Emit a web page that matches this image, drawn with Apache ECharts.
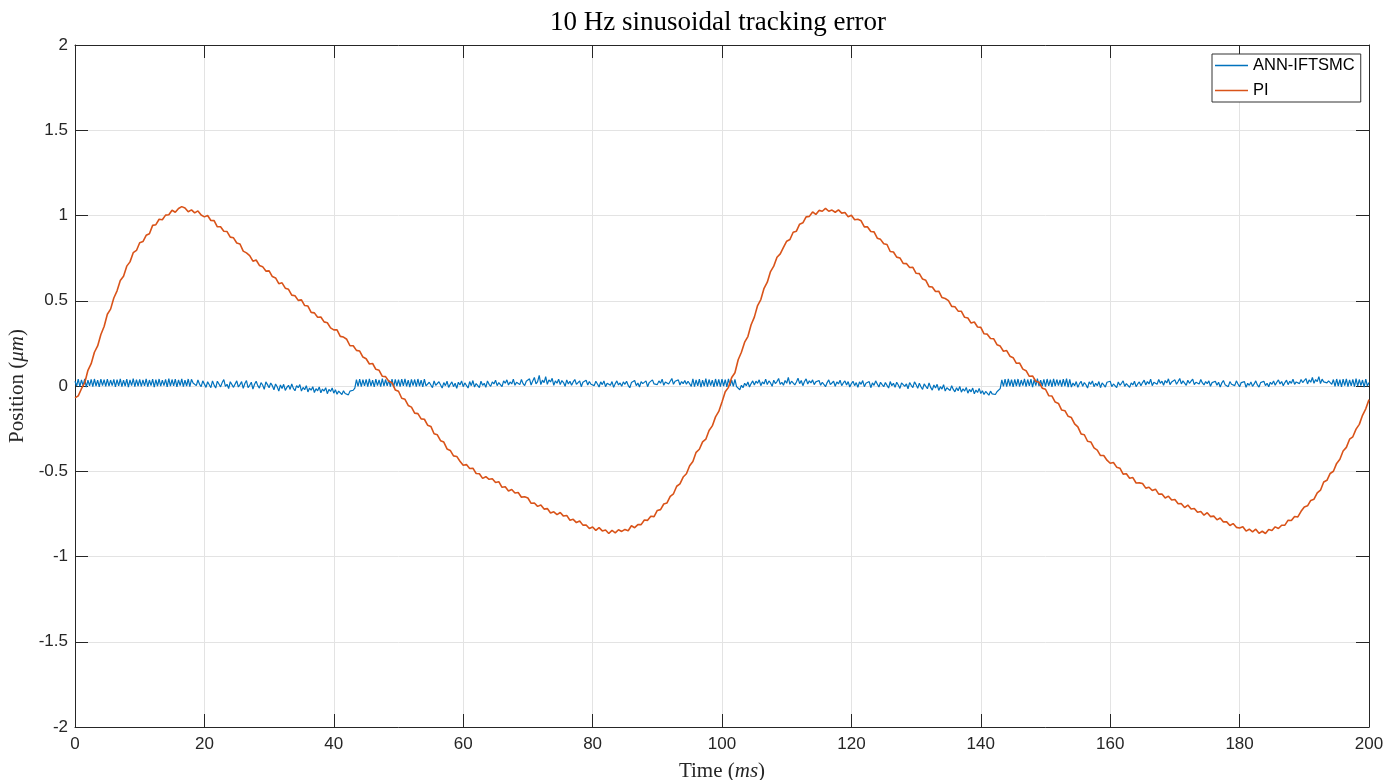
<!DOCTYPE html>
<html><head><meta charset="utf-8">
<script src="https://cdn.jsdelivr.net/npm/echarts@6/dist/echarts.min.js"></script>
<style>html,body{margin:0;padding:0;background:#fff}#c{width:1400px;height:780px}</style>
</head><body><div id="c"></div>
<script>
// ---- chart text ----
const titleText = '10 Hz sinusoidal tracking error';
const seriesNames = ['ANN-IFTSMC', 'PI'];
const seriesColors = ['#0072BD', '#D95319'];
// ---- axis ranges / ticks ----
const xLimits = [0, 200];
const xTickStep = 20;
const yLimits = [-2, 2];
const yTickStep = 0.5;
// ---- sample spacing (ms) ----
const annStepMs = 0.25;
const piStepMs = 0.5;
// ---- ANN-IFTSMC error (um), one value every 0.25 ms from 0 to 200 ms ----
const annValues = [
.028,.0,.04,-.004,.036,.002,.042,-.006,.034,.001,.039,-.003,.041,.0,.035,-.005,.04,.002,.037,-.002,
.041,-.001,.035,.002,.039,-.005,.037,.001,.042,-.003,.034,.0,.04,-.006,.036,.002,.043,-.004,.038,.0,
.039,-.002,.036,.001,.042,-.004,.035,.002,.04,-.006,.038,.0,.041,-.001,.034,.002,.039,-.005,.043,-.001,
.038,.001,.04,-.005,.036,.002,.042,-.003,.035,.0,.041,-.004,.039,.018,.028,.002,.035,.01,-.004,.03,
.022,-.008,.025,.015,-.01,.03,.005,-.012,.028,.012,-.005,.02,.038,-.002,.01,-.015,.025,.018,-.008,.012,
.03,-.006,.008,.026,-.014,.015,.032,-.01,.004,.022,-.018,.01,.028,.002,-.012,.02,.006,-.02,.024,.008,
-.01,.018,.002,-.022,.012,-.004,-.03,.006,-.015,.01,-.026,-.008,.004,-.02,.012,-.014,-.028,.002,-.01,.008,
-.03,-.008,-.022,.002,-.035,-.012,-.025,-.004,-.038,-.016,-.028,-.006,-.04,-.018,-.03,-.01,-.045,-.02,-.032,-.012,
-.042,-.022,-.048,-.03,-.038,-.05,-.028,-.044,-.035,-.052,-.03,-.04,-.025,-.012,.038,-.002,.04,-.004,.037,.001,
.039,-.003,.042,.0,.035,-.005,.04,.002,.036,-.004,.043,-.001,.038,.001,.034,-.003,.041,-.006,.039,.0,
.037,-.004,.04,.001,.042,-.002,.035,-.006,.039,.002,.038,-.003,.041,.0,.034,-.005,.04,.001,-.005,.022,
.012,-.01,.03,.004,-.006,.025,.015,-.012,.02,.002,.028,-.008,.01,.024,-.004,.016,-.014,.022,.006,.03,
-.004,.018,.008,-.012,.026,.002,.032,-.006,.014,.022,-.01,.028,.004,.016,-.008,.03,.01,-.002,.024,.012,
.034,.002,.02,.01,-.004,.03,.016,.036,.006,.024,.012,.04,.004,.022,.03,.008,.038,.014,.002,.028,
.018,.042,.006,.03,.05,.012,.026,.062,.008,.034,.02,.055,.01,.036,.024,.045,.004,.03,.016,.04,
.008,.032,.02,-.002,.036,.012,.028,.004,.024,.038,.01,.018,.03,-.004,.022,.014,.034,.006,.026,.01,
.02,.002,.028,.012,-.006,.024,.008,.03,-.004,.016,.022,.004,.026,-.008,.014,.03,.006,.018,-.002,.024,
.01,.028,.004,-.01,.02,.012,.032,.002,.018,-.006,.026,.014,.006,.03,-.004,.02,.01,.036,.012,.022,
.008,.03,.016,.04,.004,.024,.034,.012,.02,.044,.01,.028,.018,.036,.006,.026,.014,.032,.01,.028,
.039,-.002,.042,-.004,.036,.001,.04,-.006,.035,.0,.043,-.003,.038,.002,.034,-.005,.041,.0,.039,-.003,
.04,.0,.037,-.005,.042,.001,.035,-.002,.039,-.004,-.012,-.022,.004,-.01,.016,.002,.024,-.006,.014,.03,
.006,.028,.016,.036,.002,.024,.012,.04,.008,.03,.018,-.002,.034,.014,.026,.044,.01,.022,.004,.032,
.016,.05,.01,.028,.038,.006,.024,.046,.014,.032,.002,.026,.042,.012,.03,.018,.036,.008,.024,.014,
.032,.004,.022,.03,-.004,.02,.036,.008,.016,.028,-.002,.024,.012,.034,.002,.018,.03,.006,.026,-.006,
.014,.028,.002,.02,-.008,.024,.01,.032,-.004,.016,.006,.026,-.01,.018,.004,.03,.012,-.006,.022,.008,
-.004,.02,.01,-.012,.026,.002,.016,-.008,.022,.006,-.014,.018,.028,-.002,.012,-.016,.02,.004,-.01,.024,
.008,-.014,.016,-.004,-.02,.012,.002,-.016,.018,-.008,-.024,.006,-.012,.01,-.026,-.004,-.018,.008,-.03,-.01,
-.006,-.026,.002,-.02,-.034,-.01,-.028,-.002,-.036,-.016,-.03,-.008,-.042,-.02,-.034,-.012,-.046,-.024,-.038,-.014,
-.044,-.028,-.05,-.032,-.04,-.054,-.03,-.046,-.036,-.05,-.034,-.044,-.015,.036,-.002,.04,-.004,.042,.0,.037,
-.005,.039,.0,.041,-.003,.035,.002,.042,-.004,.038,.001,.04,-.006,.037,.002,.043,-.001,.034,.0,.039,
-.004,.041,.001,.037,-.005,.042,-.001,.038,.002,.036,-.004,.04,.0,.043,-.006,.039,-.006,.018,.002,.026,
-.008,.014,.028,-.002,.02,.008,-.012,.024,.01,.03,-.004,.016,.002,.026,-.01,.018,.006,-.006,.022,.012,
.028,-.004,.012,.02,-.01,.024,.004,.016,.03,-.002,.014,.022,-.008,.018,.006,.028,-.004,.012,.024,.002,
.02,.034,.006,.026,.012,.04,.002,.022,.03,.01,.038,.016,.028,.004,.032,.018,.042,.008,.024,.014,
.036,.01,.026,.044,.012,.03,.02,.004,.034,.016,.028,.04,.008,.022,.03,.012,.038,.018,.006,.026,
.014,.03,-.002,.02,.01,.028,.004,.022,-.006,.018,.032,.008,.016,-.004,.026,.01,.02,.002,.03,.012,
-.004,.02,.01,.026,-.008,.016,.004,.024,-.002,.012,.03,.006,-.006,.02,.012,.028,.002,.016,-.004,.022,
.01,.03,.004,.022,.036,.012,.026,.002,.02,.034,.008,.028,.016,.04,.01,.024,.032,.014,.038,.02,
.028,.044,.012,.036,.022,.05,.016,.038,.026,.055,.014,.04,.024,.032,.018,.03,.036,.01,.038,-.002,
.041,.0,.037,-.005,.04,.002,.042,-.003,.036,.001,.039,-.004,.043,-.001,.038,.002,.035,-.006,.04,.0,
.02
];
// ---- PI error (um), one value every 0.5 ms from 0 to 200 ms ----
const piValues = [
-.07,-.058,-.016,.018,.092,.131,.198,.235,.302,.349,.421,.451,.516,.558,.619,.644,.703,.728,.782,.795,
.84,.847,.884,.893,.942,.946,.978,.975,1.002,1.004,1.031,1.019,1.041,1.052,1.044,1.022,1.033,1.015,1.027,1.003,
.992,1.0,.971,.97,.934,.934,.908,.906,.873,.869,.839,.833,.791,.781,.765,.732,.739,.707,.70,.674,
.675,.642,.634,.60,.605,.574,.567,.533,.529,.502,.505,.472,.469,.432,.429,.403,.405,.376,.371,.341,
.329,.329,.291,.287,.274,.236,.236,.209,.205,.17,.16,.129,.132,.098,.092,.057,.055,.028,.019,-.023,
-.031,-.072,-.078,-.114,-.124,-.159,-.162,-.193,-.195,-.23,-.237,-.28,-.286,-.321,-.329,-.369,-.378,-.41,-.413,-.441,
-.465,-.461,-.484,-.482,-.513,-.515,-.542,-.532,-.547,-.544,-.566,-.561,-.594,-.591,-.616,-.607,-.628,-.625,-.652,-.65,
-.657,-.688,-.686,-.706,-.698,-.722,-.719,-.745,-.738,-.754,-.742,-.763,-.759,-.787,-.782,-.801,-.792,-.816,-.815,-.836,
-.827,-.847,-.831,-.85,-.845,-.865,-.847,-.861,-.843,-.853,-.841,-.849,-.82,-.831,-.813,-.813,-.786,-.788,-.764,-.766,
-.73,-.725,-.692,-.686,-.647,-.632,-.588,-.574,-.534,-.515,-.468,-.443,-.389,-.371,-.328,-.312,-.261,-.234,-.181,-.149,
-.094,-.034,-.008,.05,.078,.154,.198,.257,.29,.359,.404,.472,.507,.573,.609,.671,.703,.755,.775,.813,
.849,.859,.902,.908,.949,.957,.992,.995,1.021,1.006,1.03,1.025,1.042,1.025,1.032,1.019,1.033,1.014,1.018,.993,
1.001,.975,.978,.969,.933,.933,.906,.904,.867,.86,.834,.83,.789,.786,.756,.751,.719,.718,.695,.696,
.661,.659,.627,.62,.583,.581,.554,.556,.519,.513,.501,.467,.465,.439,.438,.403,.399,.369,.375,.346,
.344,.306,.304,.279,.277,.242,.234,.204,.208,.175,.166,.133,.134,.099,.09,.057,.059,.028,.022,-.013,
-.019,-.057,-.059,-.094,-.102,-.141,-.145,-.178,-.185,-.222,-.24,-.281,-.286,-.324,-.328,-.363,-.376,-.408,-.408,-.435,
-.453,-.449,-.476,-.482,-.517,-.515,-.541,-.537,-.569,-.568,-.572,-.599,-.594,-.613,-.605,-.634,-.633,-.657,-.646,-.669,
-.666,-.691,-.69,-.713,-.698,-.721,-.718,-.741,-.736,-.758,-.743,-.766,-.763,-.785,-.774,-.797,-.797,-.818,-.807,-.829,
-.833,-.826,-.851,-.84,-.855,-.84,-.864,-.852,-.865,-.842,-.847,-.826,-.836,-.817,-.816,-.787,-.789,-.765,-.768,-.735,
-.71,-.703,-.671,-.664,-.627,-.611,-.563,-.553,-.513,-.5,-.454,-.43,-.381,-.36,-.312,-.298,-.253,-.225,-.172,-.134,
-.08
];

const annData = annValues.map((v, i) => [i * annStepMs, v]);
const piData = piValues.map((v, i) => [i * piStepMs, v]);

const axisColor = '#262626';
const gridColor = '#e3e3e3';
const sans = 'Liberation Sans, Arial, sans-serif';
const serif = 'Liberation Serif, Times New Roman, serif';

const chart = echarts.init(document.getElementById('c'), null, {renderer: 'canvas'});
const xBase = {
  type: 'value', min: xLimits[0], max: xLimits[1], interval: xTickStep,
  axisLine: {show: true, onZero: false, lineStyle: {color: axisColor, width: 1}},
  axisTick: {show: true, inside: true, length: 13, lineStyle: {color: axisColor, width: 1}}
};
const yBase = {
  type: 'value', min: yLimits[0], max: yLimits[1], interval: yTickStep,
  axisLine: {show: true, onZero: false, lineStyle: {color: axisColor, width: 1}},
  axisTick: {show: true, inside: true, length: 13, lineStyle: {color: axisColor, width: 1}}
};
chart.setOption({
  animation: false,
  backgroundColor: '#ffffff',
  title: {
    text: titleText, left: 713, top: 4, textAlign: 'center',
    textStyle: {fontFamily: serif, fontSize: 27, fontWeight: 'normal', color: '#000'}
  },
  grid: {left: 75, right: 31, top: 45, bottom: 53, containLabel: false, outerBoundsMode: 'none'},
  legend: {
    data: seriesNames.map((n, i) => ({name: n, icon: 'rect', itemStyle: {color: seriesColors[i]}})),
    orient: 'vertical', left: 1212, top: 54,
    padding: [3, 6, 3, 3], itemGap: 8, itemWidth: 33, itemHeight: 1.5,
    backgroundColor: '#fff', borderColor: '#333', borderWidth: 1,
    textStyle: {fontFamily: sans, fontSize: 16.5, color: '#000'}
  },
  xAxis: [
    Object.assign({}, xBase, {
      position: 'bottom',
      name: '{a|Time (}{b|ms}{a|)}', nameLocation: 'middle', nameGap: 34,
      nameTextStyle: {rich: {
        a: {fontFamily: serif, fontSize: 21, color: '#262626'},
        b: {fontFamily: serif, fontSize: 21, fontStyle: 'italic', color: '#262626'}
      }},
      axisLabel: {show: true, margin: 9, fontFamily: sans, fontSize: 17, color: axisColor},
      splitLine: {show: true, lineStyle: {color: gridColor, width: 1}}
    }),
    Object.assign({}, xBase, {
      position: 'top', axisLabel: {show: false}, splitLine: {show: false}
    })
  ],
  yAxis: [
    Object.assign({}, yBase, {
      position: 'left',
      name: '{a|Position (}{b|μm}{a|)}', nameLocation: 'middle', nameGap: 43,
      nameTextStyle: {rich: {
        a: {fontFamily: serif, fontSize: 21, color: '#262626'},
        b: {fontFamily: serif, fontSize: 21, fontStyle: 'italic', color: '#262626'}
      }},
      axisLabel: {show: true, margin: 7, fontFamily: sans, fontSize: 17, color: axisColor},
      splitLine: {show: true, lineStyle: {color: gridColor, width: 1}}
    }),
    Object.assign({}, yBase, {
      position: 'right', axisLabel: {show: false}, splitLine: {show: false}
    })
  ],
  series: [
    {
      name: seriesNames[0], type: 'line', data: annData, xAxisIndex: 0, yAxisIndex: 0,
      showSymbol: false, symbol: 'none', sampling: null,
      color: seriesColors[0], lineStyle: {color: seriesColors[0], width: 1.2}
    },
    {
      name: seriesNames[1], type: 'line', data: piData, xAxisIndex: 0, yAxisIndex: 0,
      showSymbol: false, symbol: 'none', sampling: null,
      color: seriesColors[1], lineStyle: {color: seriesColors[1], width: 1.6}
    }
  ]
});
</script>
</body></html>
